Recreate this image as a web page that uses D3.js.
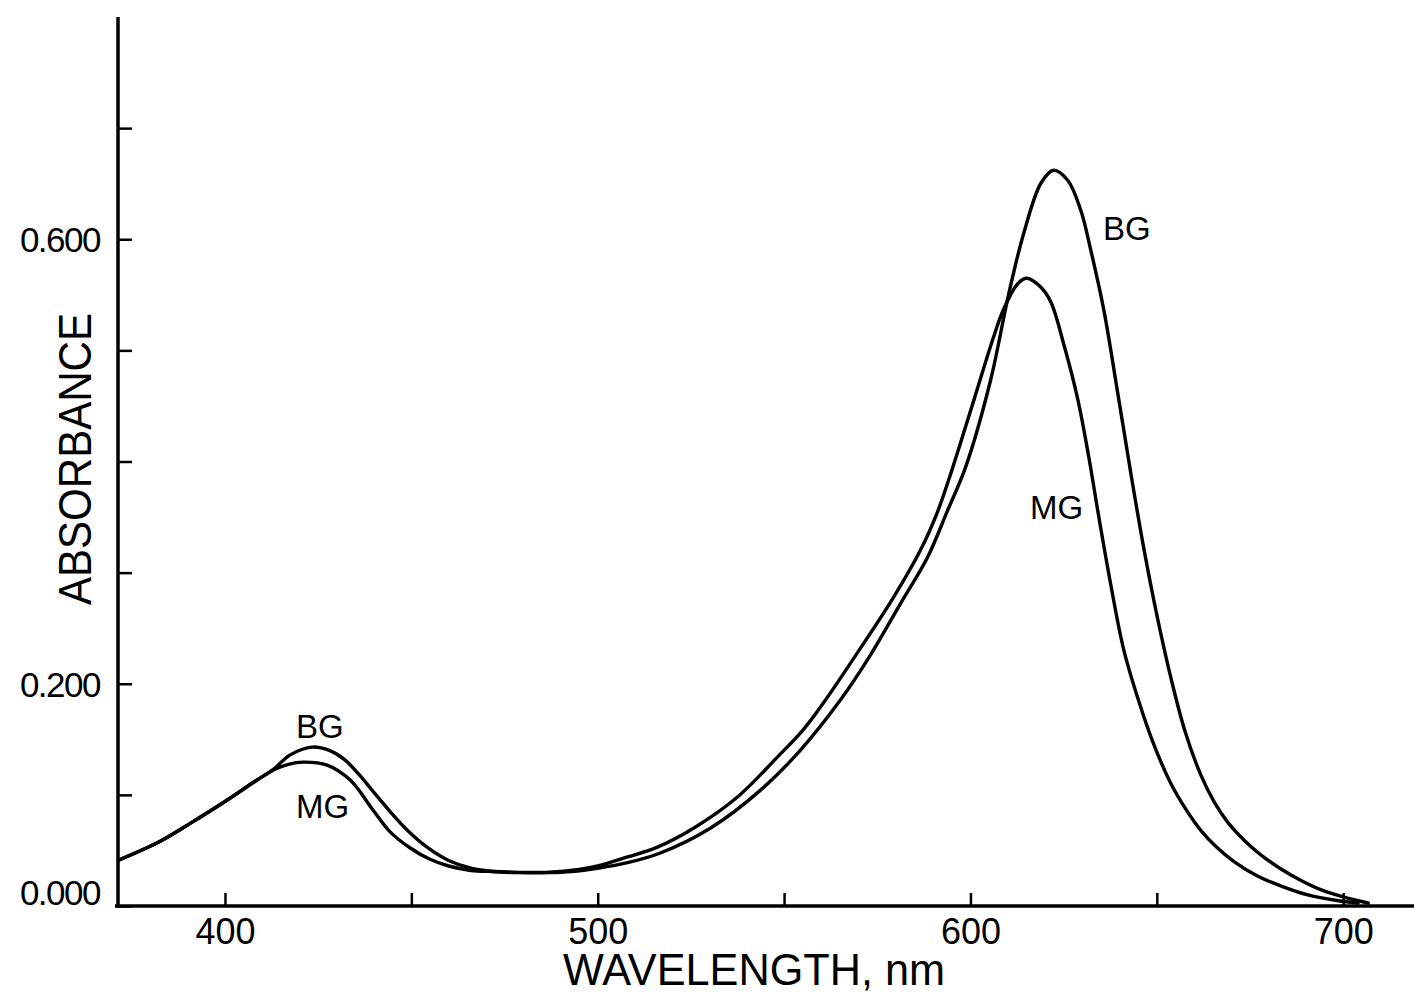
<!DOCTYPE html>
<html>
<head>
<meta charset="utf-8">
<script src="https://cdn.jsdelivr.net/npm/d3@7"></script>
<style>
  html, body { margin: 0; padding: 0; background: #fff; }
  svg { display: block; }
  text { font-family: "Liberation Sans", "DejaVu Sans", sans-serif; fill: #000; }
</style>
</head>
<body>
<svg id="chart" width="1414" height="994"></svg>
<script>
// Wavelength (nm) and absorbance
const bgWavelength = [371.3, 382.5, 391, 400, 408, 413, 417.5, 423.4, 428, 432, 436.3, 440, 444.3, 449, 454.2, 460, 466, 472, 479, 487, 493, 500, 508, 516.8, 530.2, 543.7, 554.4, 565.1, 573.2, 581.3, 588.5, 593.9, 598.7, 605.4, 610.3, 614.3, 618.9, 622.3, 626.1, 629.6, 632.3, 635.8, 639.5, 643, 646.5, 650, 653.8, 657.5, 661.8, 665.5, 669.1, 673.5, 677.9, 683, 688.7, 694.5, 700.2, 706.7];
const bgAbsorbance = [0.041, 0.058, 0.075, 0.094, 0.112, 0.123, 0.136, 0.143, 0.140, 0.132, 0.117, 0.102, 0.085, 0.068, 0.053, 0.041, 0.034, 0.031, 0.030, 0.030, 0.031, 0.034, 0.039, 0.0477, 0.070, 0.1043, 0.1403, 0.1853, 0.226, 0.2726, 0.3139, 0.3562, 0.3949, 0.4731, 0.5514, 0.6054, 0.6504, 0.6621, 0.6531, 0.6261, 0.590, 0.536, 0.462, 0.390, 0.322, 0.262, 0.205, 0.158, 0.118, 0.093, 0.075, 0.059, 0.046, 0.034, 0.023, 0.014, 0.008, 0.0027];

const mgWavelength = [371.3, 382.5, 391, 400, 408, 413.4, 417, 420.9, 427.4, 433.6, 439.7, 444.5, 449.7, 455, 460, 466, 472, 479, 487, 495, 500, 508, 516, 525.7, 537.5, 548.2, 555, 561.1, 569.7, 579.4, 586.6, 591.2, 595, 600.9, 606.2, 608.9, 612.7, 615.1, 618.9, 621.6, 625.0, 628.8, 631.7, 634.7, 637.6, 641.1, 645, 649, 653.8, 658, 661.8, 666, 670.7, 677, 684.1, 690.5, 697.5, 704.0];
const mgAbsorbance = [0.041, 0.058, 0.075, 0.094, 0.112, 0.123, 0.1275, 0.1295, 0.1268, 0.1133, 0.0864, 0.066, 0.0522, 0.042, 0.036, 0.032, 0.031, 0.0303, 0.0305, 0.033, 0.036, 0.0441, 0.053, 0.070, 0.0981, 0.1340, 0.158, 0.1853, 0.228, 0.2780, 0.3203, 0.355, 0.392, 0.455, 0.512, 0.537, 0.560, 0.5649, 0.5568, 0.5433, 0.506, 0.456, 0.405, 0.345, 0.290, 0.231, 0.186, 0.147, 0.110, 0.086, 0.068, 0.053, 0.040, 0.027, 0.017, 0.010, 0.0054, 0.0027];

const xTickValues = [400, 450, 500, 550, 600, 650, 700];
const xTickLabels = {400: "400", 500: "500", 600: "600", 700: "700"};
const yTickValues = [0, 0.1, 0.2, 0.3, 0.4, 0.5, 0.6, 0.7];
const yTickLabels = {0: "0.000", 0.2: "0.200", 0.6: "0.600"};

const xDomain = [371.3, 719];
const yDomain = [0, 0.8];

(function () {
const svg = d3.select("#chart");
const mLeft = 118, mRight = 1414, mBottom = 906, mTop = 17;

const x = d3.scaleLinear().domain(xDomain).range([mLeft, mRight]);
const y = d3.scaleLinear().domain(yDomain).range([mBottom, mTop]);

svg.append("defs").append("clipPath").attr("id", "plot")
  .append("rect").attr("x", mLeft).attr("y", 0).attr("width", mRight - mLeft).attr("height", mBottom);

const line = d3.line().x(d => x(d[0])).y(d => y(d[1])).curve(d3.curveCatmullRom.alpha(0.5));

const series = [
  d3.zip(bgWavelength, bgAbsorbance),
  d3.zip(mgWavelength, mgAbsorbance)
];
svg.append("g").attr("clip-path", "url(#plot)")
  .selectAll("path").data(series).join("path")
  .attr("d", line)
  .attr("fill", "none").attr("stroke", "#000").attr("stroke-width", 3.4)
  .attr("stroke-linejoin", "round").attr("stroke-linecap", "round");

// X axis (ticks pointing up, inside)
const xAxis = d3.axisBottom(x).tickValues(xTickValues)
  .tickSize(-13).tickPadding(26)
  .tickFormat(d => xTickLabels[d] || "");
const gx = svg.append("g").attr("transform", `translate(0,${mBottom})`).call(xAxis);
gx.select(".domain").attr("d", `M${mLeft - 3},0H${mRight}`).attr("stroke-width", 3.5);
gx.selectAll(".tick line").attr("stroke-width", 2.5);
gx.selectAll(".tick text").attr("font-size", 36).attr("dy", "0.71em").attr("y", 12);

// Y axis (ticks pointing right, inside)
const yAxis = d3.axisLeft(y).tickValues(yTickValues)
  .tickSize(-14).tickPadding(18)
  .tickFormat(d => yTickLabels[d] || "");
const gy = svg.append("g").attr("transform", `translate(${mLeft},0)`).call(yAxis);
gy.select(".domain").attr("d", `M0,${mTop}V${mBottom + 2}`).attr("stroke-width", 3.5);
gy.selectAll(".tick line").attr("stroke-width", 2.5);
gy.selectAll(".tick text").attr("font-size", 35).attr("letter-spacing", -1.5)
  .attr("dy", d => d === 0 ? "-0.05em" : "0.35em");

// Axis titles
svg.append("text").attr("x", 563).attr("y", 985)
  .attr("font-size", 44).attr("textLength", 382).attr("lengthAdjust", "spacingAndGlyphs")
  .text("WAVELENGTH, nm");
svg.append("text").attr("transform", "translate(91,605) rotate(-90)")
  .attr("font-size", 47).attr("textLength", 292).attr("lengthAdjust", "spacingAndGlyphs")
  .text("ABSORBANCE");

// Curve labels
const labels = [
  {t: "BG", x: 1103, y: 240},
  {t: "MG", x: 1030, y: 519},
  {t: "BG", x: 296, y: 738},
  {t: "MG", x: 296, y: 818}
];
svg.selectAll(".lbl").data(labels).join("text").attr("class", "lbl")
  .attr("x", d => d.x).attr("y", d => d.y).attr("font-size", 33).text(d => d.t);
})();
</script>
</body>
</html>
